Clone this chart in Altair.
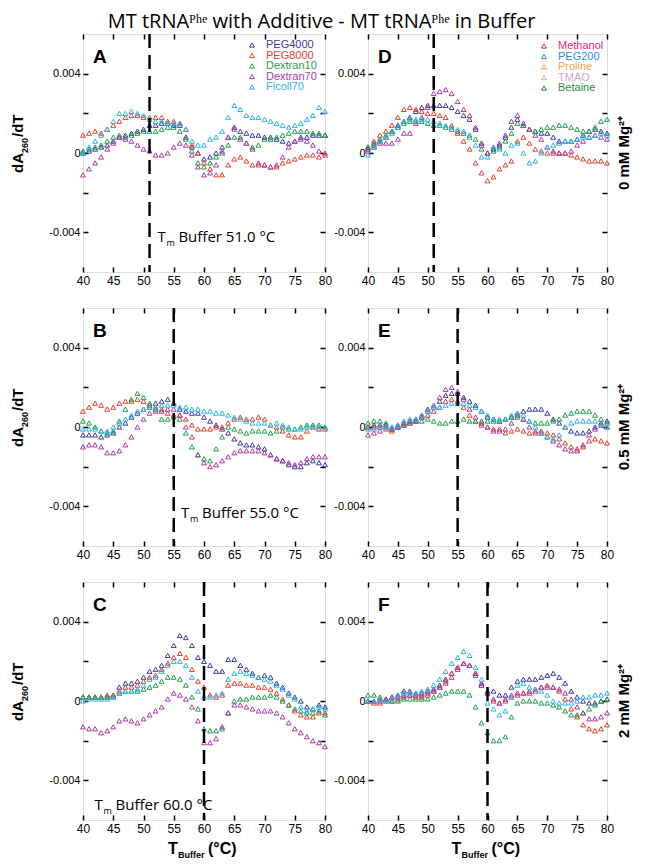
import altair as alt
import pandas as pd

# ---------------- data (dA260/dT values in units of 1e-3 per degC) ----------------
TEMPS = list(range(40, 81))

LEFT_NAMES = ["PEG4000", "PEG8000", "Dextran10", "Dextran70", "Ficoll70"]
LEFT_COLORS = ["#3b3b9e", "#e8402c", "#1f9e4a", "#a83ca8", "#2bb4e8"]
RIGHT_NAMES = ["Methanol", "PEG200", "Proline", "TMAO", "Betaine"]
RIGHT_COLORS = ["#e3287d", "#1f8fd8", "#f5a347", "#c7a6dc", "#1f8a4c"]

A_PEG4000 = [0.0, 0.1, 0.2, 0.3, 0.4, 0.6, 0.8, 0.9, 1.0, 1.1,
             1.2, 1.4, 1.4, 1.5, 1.5, 1.4, 1.4, 0.8, 0.3, 0.0,
             -0.3, -0.2, 0.0, 0.3, 0.8, 1.3, 1.1, 1.0, 0.9, 0.9,
             0.8, 0.8, 0.7, 0.6, 0.5, 0.6, 0.8, 0.8, 0.9, 0.9, 0.9]
A_PEG8000 = [0.9, 1.0, 1.1, 1.0, 1.2, 1.4, 1.6, 1.8, 1.9, 1.9,
             1.8, 1.8, 1.8, 1.8, 1.6, 1.6, 1.5, 1.2, 0.4, 0.0,
             -0.5, -0.8, -1.1, -1.1, -0.6, -0.3, -0.2, -0.4, -0.6, -0.6,
             -0.6, -0.7, -0.7, -0.5, -0.4, -0.3, -0.2, -0.1, -0.1, -0.2, 0.0]
A_Dextran10 = [0.1, 0.2, 0.3, 0.4, 0.6, 0.8, 0.9, 0.8, 0.9, 1.0,
               1.1, 1.1, 1.1, 1.2, 1.3, 1.3, 1.1, 0.7, 0.1, -0.5,
               -0.7, -0.5, -0.2, 0.0, 0.4, 0.8, 0.8, 0.5, 0.3, 0.4,
               0.7, 0.7, 0.8, 0.9, 1.0, 1.1, 1.1, 1.1, 1.0, 1.0, 0.9]
A_Dextran70 = [-1.1, -0.8, -0.5, -0.2, 0.2, 0.5, 0.8, 0.7, 0.6, 0.4,
               0.2, 0.1, -0.1, -0.1, 0.0, 0.3, 0.5, 0.4, -0.1, -0.7,
               -1.1, -1.0, -0.6, 0.1, 0.8, 1.2, 0.7, 0.5, 0.2, -0.5,
               -0.6, -0.7, -0.6, -0.2, 0.3, 0.6, 0.7, 0.6, 0.4, 0.1, -0.1]
A_Ficoll70 = [0.0, 0.3, 0.6, 0.9, 1.2, 1.6, 2.0, 2.0, 2.1, 2.0,
              1.9, 1.7, 1.6, 1.6, 1.5, 1.5, 1.5, 1.2, 0.6, 0.4,
              0.4, 0.7, 0.8, 1.1, 1.8, 2.4, 2.2, 1.9, 1.8, 1.8,
              1.7, 1.6, 1.5, 1.4, 1.3, 1.4, 1.5, 1.7, 1.9, 2.3, 2.1]

B_PEG4000 = [-0.4, -0.4, -0.4, -0.5, -0.4, -0.3, 0.0, 0.2, 0.5, 0.7,
             0.9, 1.0, 1.2, 1.3, 1.4, 1.2, 0.9, 0.8, 0.7, 0.7,
             0.5, 0.3, 0.1, -0.1, -0.3, -0.6, -0.8, -0.9, -0.9, -1.0,
             -1.1, -1.4, -1.6, -1.7, -1.9, -2.0, -2.0, -1.8, -1.7, -1.8, -1.9]
B_PEG8000 = [0.8, 1.0, 1.2, 1.1, 0.9, 1.0, 1.2, 1.3, 1.3, 1.4,
             1.3, 1.1, 1.0, 0.9, 0.7, 0.6, 0.6, 0.4, 0.1, -0.1,
             -0.1, -0.1, 0.0, 0.0, 0.2, 0.4, 0.5, 0.4, 0.4, 0.5,
             0.4, 0.1, 0.0, -0.2, -0.4, -0.5, -0.5, -0.2, 0.0, -0.1, -0.1]
B_Dextran10 = [0.3, 0.2, 0.0, -0.2, -0.3, -0.2, 0.3, 0.9, 1.4, 1.7,
               1.5, 1.2, 0.9, 0.4, 0.4, 0.5, 0.4, -0.3, -1.0, -1.4,
               -1.6, -1.7, -1.1, -0.5, 0.0, -0.1, -0.2, -0.3, -0.2, -0.2,
               -0.2, -0.3, -0.2, 0.0, -0.1, -0.1, 0.0, 0.1, 0.1, 0.1, 0.0]
B_Dextran70 = [-1.0, -0.9, -0.9, -1.0, -1.3, -1.3, -1.2, -0.9, -0.5, 0.0,
               0.4, 0.7, 0.8, 0.8, 0.9, 0.9, 0.6, 0.0, -0.5, -1.4,
               -1.8, -2.0, -1.9, -1.7, -1.5, -1.3, -1.2, -1.2, -1.2, -1.2,
               -1.3, -1.4, -1.6, -1.7, -1.8, -1.9, -1.8, -1.6, -1.5, -1.5, -1.5]
B_Ficoll70 = [-0.1, -0.1, -0.1, -0.2, -0.2, 0.0, 0.2, 0.4, 0.6, 0.8,
              0.9, 1.0, 1.0, 1.1, 1.1, 1.1, 1.0, 1.0, 0.9, 0.9,
              0.8, 0.8, 0.7, 0.7, 0.6, 0.5, 0.4, 0.3, 0.2, 0.2,
              0.2, 0.1, 0.2, 0.1, 0.0, -0.1, -0.1, 0.0, 0.0, 0.0, 0.0]

C_PEG4000 = [0.2, 0.2, 0.2, 0.2, 0.2, 0.3, 0.7, 0.9, 0.9, 1.0,
             1.2, 1.5, 1.6, 1.8, 2.3, 2.8, 3.3, 3.2, 2.8, 2.2,
             2.0, 1.8, 1.5, 1.5, 2.1, 2.1, 1.8, 1.6, 1.4, 1.2,
             1.3, 1.2, 0.9, 0.7, 0.4, 0.2, 0.0, -0.3, -0.4, -0.2, -0.3]
C_PEG8000 = [0.2, 0.2, 0.2, 0.2, 0.3, 0.3, 0.5, 0.7, 0.7, 0.8,
             1.0, 1.2, 1.3, 1.6, 1.9, 2.2, 2.4, 2.2, 1.6, 1.0,
             0.7, 0.3, 0.2, 0.3, 0.8, 0.9, 0.9, 0.8, 0.8, 0.7,
             0.7, 0.6, 0.4, 0.1, -0.2, -0.5, -0.7, -0.8, -0.8, -0.6, -0.6]
C_Dextran10 = [0.2, 0.2, 0.2, 0.2, 0.2, 0.2, 0.4, 0.5, 0.5, 0.5,
               0.6, 0.7, 0.8, 1.0, 1.2, 1.2, 1.1, 0.8, 0.2, -0.4,
               -1.4, -1.5, -1.5, -1.4, -0.6, 0.0, 0.1, 0.1, 0.2, 0.2,
               0.2, 0.3, 0.2, 0.0, -0.2, -0.4, -0.5, -0.6, -0.6, -0.5, -0.7]
C_Dextran70 = [-1.3, -1.4, -1.4, -1.6, -1.5, -1.3, -1.0, -0.9, -1.0, -1.1,
               -0.9, -0.7, -0.5, -0.3, 0.1, 0.4, 0.3, 0.1, -0.3, -1.0,
               -2.1, -2.1, -1.9, -1.3, -0.6, -0.2, -0.2, -0.3, -0.4, -0.5,
               -0.5, -0.5, -0.6, -0.8, -1.1, -1.4, -1.6, -1.8, -2.0, -2.1, -2.3]
C_Ficoll70 = [0.0, 0.1, 0.1, 0.1, 0.1, 0.2, 0.4, 0.5, 0.5, 0.6,
              0.8, 1.1, 1.2, 1.5, 1.8, 2.0, 2.0, 1.8, 1.2, 0.5,
              0.2, 0.2, 0.3, 0.4, 1.1, 1.4, 1.5, 1.4, 1.3, 1.2,
              1.1, 1.0, 0.8, 0.6, 0.3, 0.1, -0.3, -0.5, -0.4, -0.3, -0.4]

D_Methanol = [0.2, 0.4, 0.6, 0.8, 1.1, 1.4, 1.6, 1.8, 2.1, 2.3,
              2.4, 2.4, 2.4, 2.4, 2.3, 2.1, 1.9, 1.7, 1.2, 0.5,
              0.0, 0.2, 0.4, 0.8, 1.3, 1.7, 1.4, 1.2, 1.1, 1.0,
              1.0, 0.8, 0.6, 0.6, 0.6, 0.7, 0.9, 1.1, 1.2, 1.1, 1.0]
D_PEG200 = [0.3, 0.6, 0.9, 1.1, 1.4, 1.8, 2.2, 2.3, 2.2, 2.1,
            2.0, 2.0, 1.9, 1.8, 1.4, 1.0, 0.6, 0.2, -0.5, -1.0,
            -1.4, -1.2, -0.8, -0.6, -0.4, 0.6, 0.8, 0.5, 0.2, 0.1,
            0.0, 0.0, 0.0, 0.0, -0.1, -0.2, -0.3, -0.4, -0.4, -0.4, -0.5]
D_Proline = [0.3, 0.5, 0.7, 0.9, 1.1, 1.3, 1.5, 1.6, 1.6, 1.6,
             1.5, 1.4, 1.4, 1.3, 1.2, 1.1, 1.0, 0.9, 0.7, 0.2,
             0.0, 0.1, 0.3, 0.6, 1.0, 1.5, 1.4, 1.2, 1.1, 1.2,
             1.3, 1.3, 1.4, 1.4, 1.3, 1.2, 1.1, 1.1, 1.3, 1.6, 1.7]
D_TMAO = [0.1, 0.3, 0.5, 0.5, 0.5, 0.7, 1.0, 1.0, 1.5, 1.8,
          2.3, 3.0, 3.1, 3.2, 3.0, 2.6, 2.2, 1.9, 1.3, 0.4,
          0.0, 0.3, 0.5, 0.9, 1.6, 1.9, 1.5, 1.2, 0.9, 0.7,
          0.3, 0.1, 0.0, 0.0, 0.1, 0.4, 0.6, 0.8, 0.9, 0.8, 0.7]
D_Betaine = [-0.1, 0.3, 0.6, 0.8, 1.0, 1.3, 1.6, 1.7, 1.7, 1.7,
             1.7, 1.6, 1.5, 1.4, 1.3, 1.2, 1.1, 0.8, 0.4, -0.2,
             -0.2, 0.3, 0.2, 0.0, 0.4, 0.5, 0.0, -0.5, -0.4, 0.0,
             0.3, 0.4, 0.5, 0.6, 0.6, 0.7, 0.8, 0.8, 0.9, 1.0, 0.9]

E_Methanol = [0.0, 0.1, 0.1, 0.1, -0.1, 0.1, 0.2, 0.3, 0.4, 0.6,
              0.9, 1.0, 1.3, 1.6, 1.7, 1.7, 1.5, 1.3, 1.1, 0.8,
              0.5, 0.4, 0.3, 0.4, 0.5, 0.7, 0.8, 0.9, 0.9, 0.9,
              0.7, 0.4, 0.2, 0.0, -0.2, -0.3, -0.3, -0.2, 0.0, 0.2, 0.3]
E_PEG200 = [0.0, 0.0, 0.0, -0.1, -0.2, 0.0, 0.1, 0.2, 0.3, 0.5,
            0.6, 0.8, 1.0, 1.3, 1.4, 1.3, 1.0, 0.6, 0.3, 0.1,
            0.0, -0.1, -0.1, -0.3, -0.2, -0.1, -0.2, -0.3, -0.3, -0.2,
            -0.3, -0.4, -0.6, -0.8, -1.0, -1.1, -1.0, -0.7, -0.6, -0.7, -0.8]
E_Proline = [0.2, 0.3, 0.3, 0.2, 0.0, 0.0, 0.1, 0.2, 0.3, 0.3,
             0.4, 0.3, 0.2, 0.2, 0.3, 0.3, 0.4, 0.3, 0.3, 0.3,
             0.3, 0.3, 0.3, 0.4, 0.5, 0.5, 0.4, 0.3, 0.2, 0.2,
             0.2, 0.3, 0.4, 0.6, 0.7, 0.8, 0.8, 0.8, 0.6, 0.4, 0.2]
E_TMAO = [-0.4, -0.3, -0.2, 0.0, -0.1, 0.0, 0.2, 0.3, 0.3, 0.5,
          0.8, 1.1, 1.5, 1.9, 2.0, 1.8, 1.4, 0.9, 0.5, 0.2,
          0.0, -0.2, -0.2, -0.1, 0.2, 0.6, 0.4, 0.0, -0.2, -0.3,
          -0.5, -0.7, -0.9, -1.1, -1.2, -1.2, -0.9, -0.4, -0.1, 0.1, 0.0]
E_Betaine = [-0.1, -0.1, 0.0, 0.0, 0.0, 0.1, 0.3, 0.4, 0.4, 0.6,
             0.8, 1.0, 1.0, 1.1, 1.2, 1.2, 1.2, 1.1, 1.0, 0.8,
             0.6, 0.4, 0.4, 0.4, 0.6, 0.7, 0.6, 0.3, 0.0, -0.3,
             -0.5, -0.6, -0.4, 0.0, 0.2, 0.3, 0.3, 0.3, 0.3, 0.1, 0.0]

F_Methanol = [0.0, 0.0, 0.1, 0.1, 0.2, 0.3, 0.5, 0.5, 0.4, 0.4,
              0.5, 0.6, 0.8, 1.1, 1.4, 1.7, 1.9, 1.8, 1.4, 0.8,
              0.5, 0.5, 0.3, 0.3, 0.7, 1.0, 1.1, 1.1, 1.1, 1.2,
              1.3, 1.4, 1.2, 0.9, 0.5, 0.2, 0.0, -0.1, -0.1, 0.0, 0.1]
F_PEG200 = [0.0, -0.1, -0.1, 0.0, 0.0, 0.1, 0.2, 0.3, 0.2, 0.2,
            0.3, 0.5, 0.7, 1.0, 1.4, 1.7, 1.9, 1.8, 1.4, 0.9,
            0.4, 0.0, -0.1, 0.0, 0.2, 0.3, 0.4, 0.4, 0.5, 0.7,
            0.8, 0.7, 0.5, 0.1, -0.4, -0.8, -1.2, -1.4, -1.5, -1.4, -1.2]
F_Proline = [0.3, 0.3, 0.2, 0.1, 0.0, 0.0, 0.1, 0.1, 0.1, 0.1,
             0.1, 0.2, 0.3, 0.4, 0.5, 0.5, 0.5, 0.3, -0.3, -1.1,
             -1.6, -2.0, -2.0, -1.8, -0.8, -0.1, 0.0, 0.0, 0.0, -0.1,
             -0.1, -0.2, -0.3, -0.5, -0.7, -0.7, -0.6, -0.4, -0.2, 0.0, 0.1]
F_TMAO = [0.0, 0.0, 0.0, 0.1, 0.2, 0.2, 0.3, 0.3, 0.3, 0.3,
          0.4, 0.5, 0.7, 0.9, 1.2, 1.6, 1.9, 1.8, 1.3, 0.9,
          0.4, 0.1, -0.1, 0.1, 0.3, 0.4, 0.4, 0.5, 0.6, 0.7,
          0.7, 0.7, 0.6, 0.4, 0.1, -0.3, -0.6, -0.9, -0.9, -0.8, -0.6]
F_Betaine = [0.0, 0.0, 0.1, 0.0, 0.1, 0.3, 0.4, 0.4, 0.4, 0.5,
             0.6, 0.8, 1.1, 1.5, 1.9, 2.2, 2.5, 2.3, 1.7, 1.1,
             -0.1, -0.4, -0.7, -0.5, 0.2, 0.8, 0.9, 0.7, 0.6, 0.5,
             0.3, 0.0, -0.1, -0.1, -0.1, 0.0, 0.2, 0.2, 0.3, 0.3, 0.4]

TM_VALUES = [51.0, 55.0, 60.0]
MG_LABELS = ["0 mM Mg²⁺", "0.5 mM Mg²⁺", "2 mM Mg²⁺"]
X_TICKS = [40, 45, 50, 55, 60, 65, 70, 75, 80]
Y_TICKS = [-0.004, -0.002, 0.0, 0.002, 0.004]

# ---------------- layout ----------------
W_L, W_R, H = 242, 239, 238
FONT = "Liberation Sans"

xs = alt.Scale(domain=[40, 80], nice=False, zero=False)
ys = alt.Scale(domain=[-0.006, 0.006], nice=False, zero=False)

Y_LABEL_EXPR = ("abs(datum.value) < 1e-9 ? '0' : "
                "(abs(abs(datum.value) - 0.004) < 1e-9 ? (datum.value > 0 ? '0.004' : '-0.004') : '')")


def make_df(names, arrays):
    rows = []
    for n, arr in zip(names, arrays):
        for t, v in zip(TEMPS, arr):
            rows.append({"T": t, "v": v * 1e-3, "series": n})
    return pd.DataFrame(rows)


def tick_axis(orient, labels):
    vals = X_TICKS if orient in ("top", "bottom") else Y_TICKS
    args = dict(orient=orient, values=vals, offset=-5, tickSize=5, tickWidth=1.5,
                tickColor="black", domain=False, grid=False, labels=labels,
                labelFont=FONT, labelColor="black", labelPadding=3,
                labelFlush=False, labelOverlap=False, minExtent=0, title=None)
    if orient in ("left", "right"):
        args["labelExpr"] = Y_LABEL_EXPR
        args["labelFontSize"] = 11
    else:
        args["format"] = "d"
        args["labelFontSize"] = 12
    return alt.Axis(**args)


def one(val):
    return pd.DataFrame({"k": [val]})


def txt(s, **kw):
    return alt.Chart(one(s)).mark_text(**kw)


def panel(letter, names, colors, arrays, tm, w, tm_label=None, legend=None,
          ytitle=False, xtitle=False, mg=None):
    df = make_df(names, arrays)
    pts = alt.Chart(df).mark_point(shape="triangle-up", filled=False, size=24,
                                   strokeWidth=1, opacity=1).encode(
        x=alt.X("T:Q", scale=xs, axis=tick_axis("bottom", True)),
        y=alt.Y("v:Q", scale=ys, axis=tick_axis("left", True)),
        color=alt.Color("series:N", scale=alt.Scale(domain=names, range=colors), legend=None),
    )
    carrier = alt.Chart(pd.DataFrame({"T": [40], "v": [0.0]})).mark_point(opacity=0).encode(
        x=alt.X("T:Q", scale=xs, axis=tick_axis("top", False)),
        y=alt.Y("v:Q", scale=ys, axis=tick_axis("right", False)),
    )
    rule = alt.Chart(one(tm)).mark_rule(color="black", strokeWidth=2.5,
                                        strokeDash=[14, 7]).encode(
        x=alt.X("k:Q", scale=xs, axis=None))
    let = txt(letter, align="left", baseline="alphabetic", fontSize=19,
              fontWeight="bold", font=FONT, color="black").encode(
        x=alt.value(10), y=alt.value(29), text="k:N")
    layers = [pts, carrier, rule, let]

    if ytitle:
        rot = dict(angle=270, align="left", baseline="alphabetic", font=FONT,
                   fontWeight="bold", color="black")
        y0 = H / 2 + 20
        layers.append(txt("dA", fontSize=15, **rot).encode(
            x=alt.value(-60), y=alt.value(y0), text="k:N"))
        layers.append(txt("260", fontSize=9, **rot).encode(
            x=alt.value(-55), y=alt.value(y0 - 20), text="k:N"))
        layers.append(txt("/dT", fontSize=15, **rot).encode(
            x=alt.value(-60), y=alt.value(y0 - 36), text="k:N"))

    if tm_label is not None:
        tx, ty, label = tm_label
        common = dict(align="left", baseline="alphabetic", font="Open Sans", color="black")
        layers.append(alt.Chart(one(tx)).mark_text(text="T", fontSize=15, **common).encode(
            x=alt.X("k:Q", scale=xs, axis=None), y=alt.value(ty)))
        layers.append(alt.Chart(one(tx)).mark_text(text="m", fontSize=9, dx=9, dy=4, **common).encode(
            x=alt.X("k:Q", scale=xs, axis=None), y=alt.value(ty)))
        layers.append(alt.Chart(one(tx)).mark_text(text=label, fontSize=15, dx=21, **common).encode(
            x=alt.X("k:Q", scale=xs, axis=None), y=alt.value(ty)))

    if legend is not None:
        lx, ly = legend
        for i, (n, c) in enumerate(zip(names, colors)):
            yy = ly + i * 10.5
            layers.append(alt.Chart(one(n)).mark_point(shape="triangle-up", filled=False, size=24,
                                                        strokeWidth=1, color=c, opacity=1).encode(
                x=alt.value(lx), y=alt.value(yy)))
            layers.append(txt(n, align="left", baseline="middle", fontSize=11,
                              font=FONT, color=c).encode(
                x=alt.value(lx + 14), y=alt.value(yy), text="k:N"))

    if mg is not None:
        layers.append(txt(mg, angle=270, align="center", baseline="middle",
                          fontSize=15, fontWeight="bold", font=FONT, color="black").encode(
            x=alt.value(w + 17), y=alt.value(H / 2), text="k:N"))

    if xtitle:
        c = w / 2
        bold = dict(align="left", baseline="alphabetic", font=FONT, fontWeight="bold", color="black")
        layers.append(txt("T", fontSize=16, **bold).encode(
            x=alt.value(c - 36), y=alt.value(H + 34), text="k:N"))
        layers.append(txt("Buffer", fontSize=9, **bold).encode(
            x=alt.value(c - 26), y=alt.value(H + 38), text="k:N"))
        layers.append(txt("(°C)", fontSize=16, **bold).encode(
            x=alt.value(c + 4), y=alt.value(H + 34), text="k:N"))

    return alt.layer(*layers).resolve_axis(x="independent", y="independent").properties(
        width=w, height=H)


left_sets = [
    [A_PEG4000, A_PEG8000, A_Dextran10, A_Dextran70, A_Ficoll70],
    [B_PEG4000, B_PEG8000, B_Dextran10, B_Dextran70, B_Ficoll70],
    [C_PEG4000, C_PEG8000, C_Dextran10, C_Dextran70, C_Ficoll70],
]
right_sets = [
    [D_Methanol, D_PEG200, D_Proline, D_TMAO, D_Betaine],
    [E_Methanol, E_PEG200, E_Proline, E_TMAO, E_Betaine],
    [F_Methanol, F_PEG200, F_Proline, F_TMAO, F_Betaine],
]
tm_labels = [
    (TM_VALUES[0] + 1.3, H - 30, "Buffer 51.0 °C"),
    (TM_VALUES[1] + 1.2, H - 28, "Buffer 55.0 °C"),
    (41.9, H - 10, "Buffer 60.0 °C"),
]
letters_l = ["A", "B", "C"]
letters_r = ["D", "E", "F"]

rows = []
for r in range(3):
    lp = panel(letters_l[r], LEFT_NAMES, LEFT_COLORS, left_sets[r], TM_VALUES[r], W_L,
               tm_label=tm_labels[r], legend=(169, 11) if r == 0 else None,
               ytitle=True, xtitle=(r == 2))
    rp = panel(letters_r[r], RIGHT_NAMES, RIGHT_COLORS, right_sets[r], TM_VALUES[r], W_R,
               legend=(176, 12) if r == 0 else None, mg=MG_LABELS[r], xtitle=(r == 2))
    rows.append(alt.hconcat(lp, rp, spacing=0))

chart = alt.vconcat(*rows, spacing=19).properties(
    title=alt.TitleParams("MT tRNAᴾʰᵉ with Additive - MT tRNAᴾʰᵉ in Buffer",
                          font="Open Sans", fontSize=20, fontWeight="normal",
                          anchor="middle", offset=0, color="black"),
    padding={"left": 2, "top": 4, "right": 0, "bottom": 0},
).configure_view(stroke="black", strokeWidth=2).configure(background="white")

chart.save("out.html", embed_options={"renderer": "svg", "actions": False})
